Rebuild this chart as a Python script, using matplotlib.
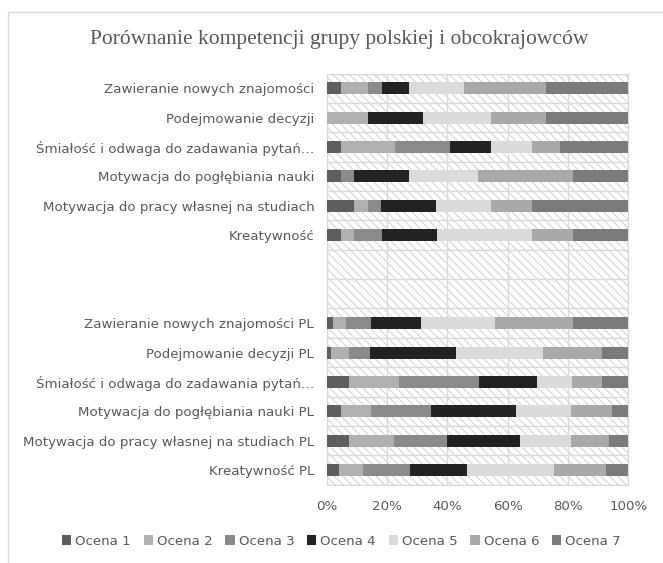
import numpy as np
import matplotlib
matplotlib.use("Agg")
import matplotlib.pyplot as plt
from matplotlib.patches import Rectangle

# categories, top to bottom
categories = [
    "Zawieranie nowych znajomości",
    "Podejmowanie decyzji",
    "Śmiałość i odwaga do zadawania pytań…",
    "Motywacja do pogłębiania nauki",
    "Motywacja do pracy własnej na studiach",
    "Kreatywność",
    "Zawieranie nowych znajomości PL",
    "Podejmowanie decyzji PL",
    "Śmiałość i odwaga do zadawania pytań…",
    "Motywacja do pogłębiania nauki PL",
    "Motywacja do pracy własnej na studiach PL",
    "Kreatywność PL",
]

series_names = ["Ocena 1", "Ocena 2", "Ocena 3", "Ocena 4", "Ocena 5", "Ocena 6", "Ocena 7"]

# shares in %
ocena1 = [4.6, 0.0, 4.6, 4.6, 9.1, 4.6, 2.2, 1.4, 7.3, 4.6, 7.3, 4.2]
ocena2 = [9.1, 13.6, 18.2, 0.0, 4.5, 4.5, 4.2, 5.9, 16.8, 9.9, 15.0, 7.7]
ocena3 = [4.5, 0.0, 18.2, 4.5, 4.5, 9.1, 8.2, 6.9, 26.3, 19.9, 17.7, 15.8]
ocena4 = [9.1, 18.2, 13.6, 18.2, 18.2, 18.2, 16.8, 28.6, 19.2, 28.2, 24.1, 18.7]
ocena5 = [18.2, 22.7, 13.6, 22.7, 18.2, 31.8, 24.5, 29.1, 11.7, 18.2, 16.8, 29.1]
ocena6 = [27.3, 18.2, 9.1, 31.8, 13.6, 13.6, 25.9, 19.6, 10.1, 13.7, 12.8, 17.2]
ocena7 = [27.3, 27.3, 22.7, 18.2, 31.8, 18.2, 18.2, 8.6, 8.6, 5.4, 6.3, 7.3]

colors = ["#5e5e5e", "#b0b0b0", "#8a8a8a", "#222222", "#dadada", "#a9a9a9", "#7b7b7b"]

data = np.array([ocena1, ocena2, ocena3, ocena4, ocena5, ocena6, ocena7])
data = data / data.sum(axis=0) * 100

# two empty rows between the groups
ypos = np.array(list(range(6)) + list(range(8, 14)))
n_rows = 14

txt = "#595959"
plt.rcParams["hatch.linewidth"] = 0.7
fig = plt.figure(figsize=(6.63, 5.63), dpi=100)
fig.patches.append(Rectangle((8 / 663, -0.1), 1.2, 1.1 - 12 / 563,
                             transform=fig.transFigure, fill=False,
                             edgecolor="#d9d9d9", linewidth=1.0))

ax = fig.add_axes([0.4928, 0.1391, 0.4549, 0.7302])
ax.set_xlim(0, 100)
ax.set_ylim(n_rows - 0.5, -0.5)

# hatched plot area
ax.add_patch(Rectangle((0, -0.5), 100, n_rows, facecolor="white",
                       edgecolor="#d0d0d0", hatch="\\\\\\\\", linewidth=0, zorder=0))

left = np.zeros(len(categories))
for i in range(len(series_names)):
    ax.barh(ypos, data[i], left=left, height=0.41, color=colors[i],
            label=series_names[i], zorder=3)
    left += data[i]

ax.set_yticks(ypos)
ax.set_yticklabels(categories, fontsize=9.6, color=txt)
ax.set_yticks(np.arange(-0.5, n_rows, 1), minor=True)
ax.set_xticks(np.arange(0, 101, 20))
ax.set_xticklabels([f"{v}%" for v in range(0, 101, 20)], fontsize=9.6, color=txt)
ax.tick_params(axis="both", which="both", length=0)
ax.tick_params(axis="y", pad=9)
ax.tick_params(axis="x", pad=11)
ax.grid(axis="x", color="#d9d9d9", linewidth=1, zorder=1)
ax.grid(axis="y", which="minor", color="#d9d9d9", linewidth=1, zorder=1)
ax.set_axisbelow(True)
for s in ax.spines.values():
    s.set_color("#d9d9d9")

fig.text(0.511, 0.929, "Porównanie kompetencji grupy polskiej i obcokrajowców",
         ha="center", va="center", fontsize=15.5, color=txt, family="Liberation Serif")

fig.legend(loc="center", bbox_to_anchor=(0.515, 0.039), ncol=7, frameon=False,
           fontsize=9.6, handlelength=0.7, handleheight=0.7, handletextpad=0.3,
           columnspacing=0.95, labelcolor=txt)

fig.savefig("out.png", dpi=100)
